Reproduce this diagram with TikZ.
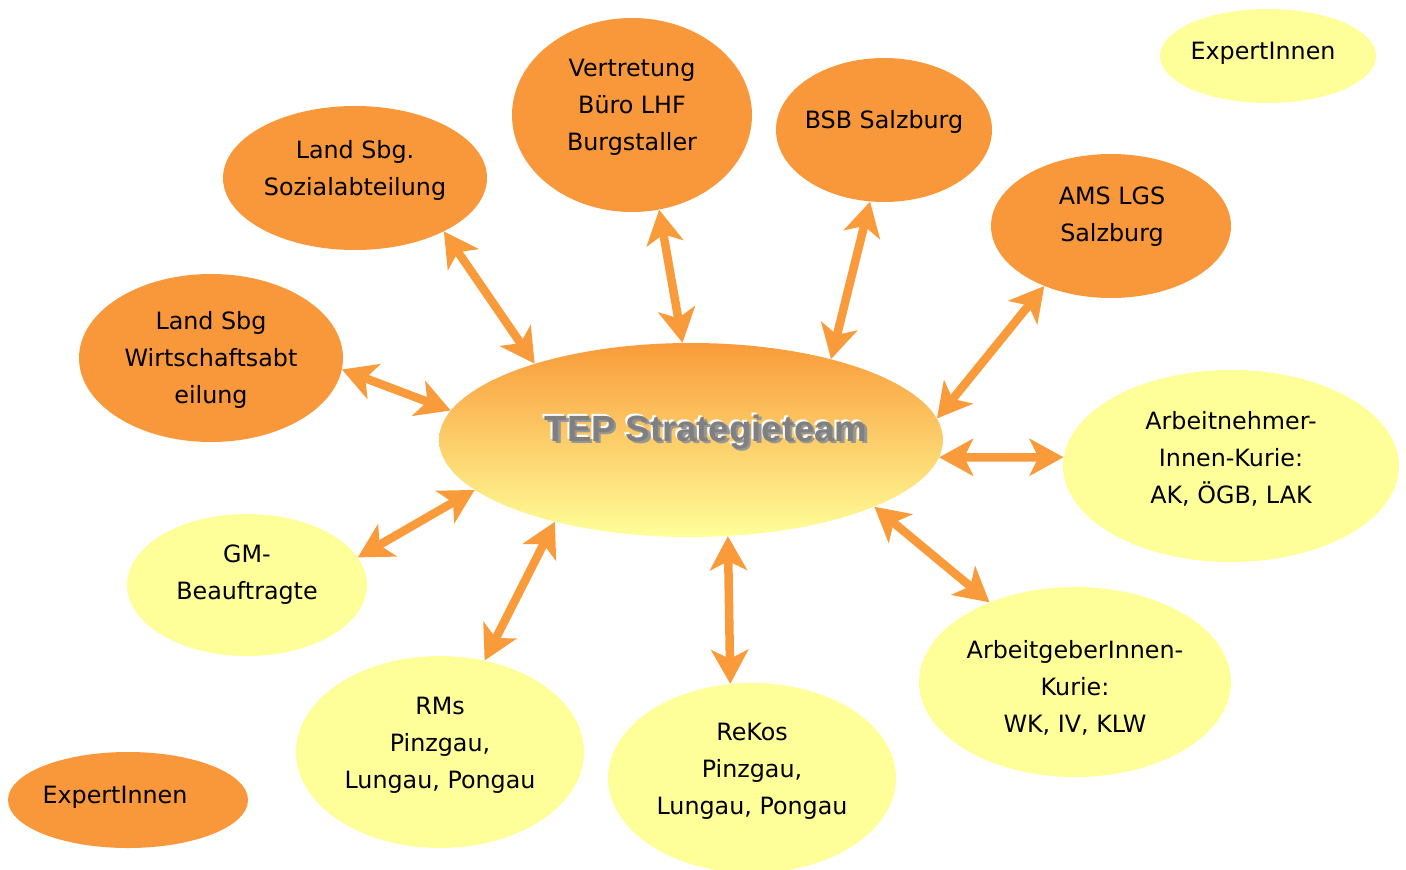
\documentclass[tikz,border=0pt]{standalone}
\usepackage{fontspec}
\setmainfont{DejaVu Sans}
\newfontfamily\tepfont{Liberation Sans}
\usetikzlibrary{shapes.geometric,arrows.meta}
\definecolor{orng}{RGB}{248,152,58}
\definecolor{ylw}{RGB}{255,255,153}
\definecolor{arrc}{RGB}{249,155,58}
\definecolor{tepgray}{RGB}{128,128,128}
\definecolor{tepshadow}{RGB}{150,150,150}
\begin{document}
\begin{tikzpicture}[x=1pt,y=-1pt,
  ell/.style={ellipse, inner sep=0pt, draw=none},
  ofill/.style={ell, fill=orng},
  yfill/.style={ell, fill=ylw},
  txt/.style={font=\fontsize{23.8}{37}\selectfont, align=center, text=black, inner sep=0pt},
  tepf/.style={font=\tepfont\bfseries\fontsize{36.5}{40}\selectfont, inner sep=0pt},
  tip/.tip={Stealth[length=34pt,width=37pt,inset=9pt]},
  arr/.style={draw=arrc, line width=8.5pt, tip-tip}
]
\useasboundingbox (0,0) rectangle (1406,870);

% orange nodes
\node[ofill, minimum width=264pt, minimum height=144pt] (soz) at (355,178) {};
\node[ofill, minimum width=240pt, minimum height=194pt] (vert) at (632,115) {};
\node[ofill, minimum width=216pt, minimum height=144pt] (bsb) at (884,130) {};
\node[ofill, minimum width=240pt, minimum height=144pt] (ams) at (1111,226) {};
\node[ofill, minimum width=264pt, minimum height=168pt] (wirt) at (211,358) {};
\node[ofill, minimum width=240pt, minimum height=96pt] (exp2) at (128,800) {};

% yellow nodes
\node[yfill, minimum width=216pt, minimum height=94pt] (exp1) at (1268,56) {};
\node[yfill, minimum width=336pt, minimum height=192pt] (an) at (1231,466) {};
\node[yfill, minimum width=240pt, minimum height=142pt] (gm) at (247,585) {};
\node[yfill, minimum width=288pt, minimum height=192pt] (rms) at (440,752) {};
\node[yfill, minimum width=288pt, minimum height=190pt] (rekos) at (752,778) {};
\node[yfill, minimum width=312pt, minimum height=190pt] (ag) at (1075,682) {};

% central node
\node[ell, minimum width=504pt, minimum height=194pt, top color=arrc, bottom color=ylw] (tep) at (691,440) {};
\node[tepf, text=white] (tepw) at (704,430) {TEP Strategieteam};
\node[tepf, text=tepshadow] (teps) at (708.5,434.5) {TEP Strategieteam};
\node[tepf, text=tepgray] (tept) at (706,432) {TEP Strategieteam};

% labels
\node[txt] (tsoz) at (355,170) {Land Sbg.\\Sozialabteilung};
\node[txt] (tvert) at (632,107) {Vertretung\\Büro LHF\\Burgstaller};
\node[txt] (tbsb) at (884,122) {BSB Salzburg};
\node[txt] (tams) at (1112,217) {AMS LGS\\Salzburg};
\node[txt] (texp1) at (1263,53) {ExpertInnen};
\node[txt] (twirt) at (211,360) {Land Sbg\\Wirtschaftsabt\\eilung};
\node[txt] (tan) at (1231,459) {Arbeitnehmer-\\Innen-Kurie:\\AK, ÖGB, LAK};
\node[txt] (tgm) at (247,575) {GM-\\Beauftragte};
\node[txt] (trms) at (440,745) {RMs\\Pinzgau,\\Lungau, Pongau};
\node[txt] (trekos) at (752,771) {ReKos\\Pinzgau,\\Lungau, Pongau};
\node[txt] (tag) at (1075,688) {ArbeitgeberInnen-\\Kurie:\\WK, IV, KLW};
\node[txt] (texp2) at (115,797) {ExpertInnen};

% connectors
\draw[arr] (soz.-31) -- (tep.154.6);
\draw[arr] (vert.-74.9) -- (tep.95.8);
\draw[arr] (bsb.-101.3) -- (tep.30.6);
\draw[arr] (ams.-138.7) -- (tep.5.2);
\draw[arr] (wirt.-5.1) -- (tep.173.2);
\draw[arr] (tep.-4.3) -- (an.177.6);
\draw[arr] (gm.14.9) -- (tep.-167.6);
\draw[arr] (rms.64.4) -- (tep.-149.9);
\draw[arr] (rekos.103.2) -- (tep.-69.2);
\draw[arr] (ag.137.1) -- (tep.-20.5);
\end{tikzpicture}
\end{document}
